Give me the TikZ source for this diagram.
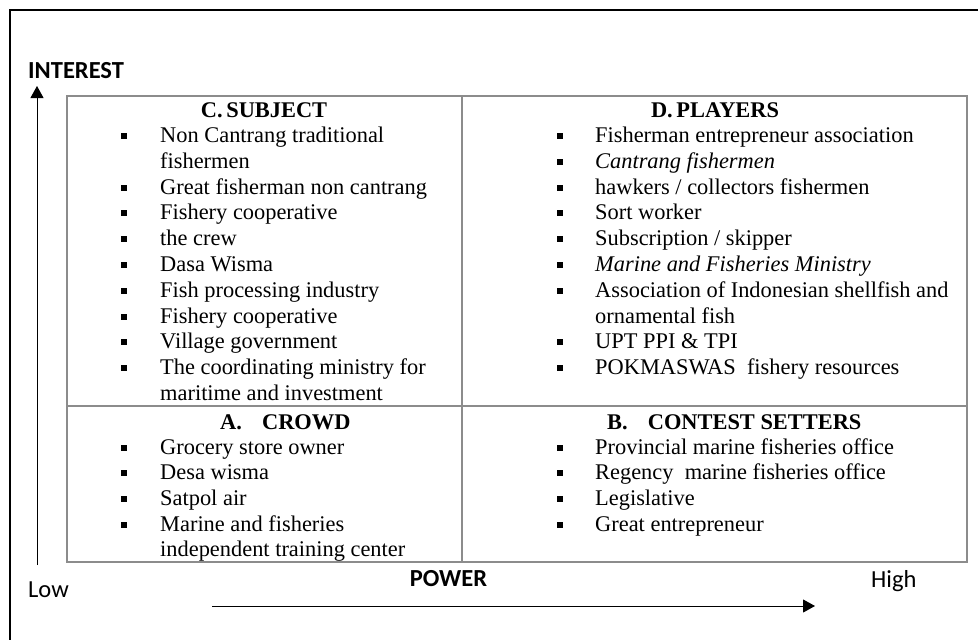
\documentclass[tikz,border=0pt]{standalone}
\usepackage{fontspec}
\setmainfont{Liberation Serif}
\newfontfamily\calibfont{Carlito}
\usetikzlibrary{arrows.meta}
\begin{document}
\begin{tikzpicture}[x=1pt,y=-1pt,
  itm/.style={anchor=base west,inner sep=0pt,yshift=-6.5pt,font=\fontsize{22.4}{26}\selectfont},
  hdr/.style={inner sep=0pt,font=\fontsize{22.4}{26}\selectfont\bfseries},
  bul/.style={fill=black,draw=none,minimum size=6pt,inner sep=0pt},
  axl/.style={inner sep=0pt,anchor=base west,font=\fontsize{24.5}{28}\selectfont\calibfont},
  axb/.style={inner sep=0pt,anchor=base,font=\fontsize{24.5}{28}\selectfont\calibfont\bfseries},
  grid/.style={draw=black!45,line width=1.6pt},
  arr/.style={line width=1pt,-{Triangle[width=13pt,length=12pt]}}]
\useasboundingbox (0,0) rectangle (978,640);
% outer frame (top and left visible)
\draw[line width=2pt] (10,645) -- (10,10) -- (985,10);
% table
\draw[grid] (67,96) rectangle (967,562);
\draw[grid] (462,96) -- (462,562);
\draw[grid] (67,406) -- (967,406);
% axis labels
\node[axb,anchor=base west] (interest) at (28,78) {INTEREST};
\node[axl] (low) at (28,597) {Low};
\node[axb] (power) at (448.5,586) {POWER};
\node[axl] (high) at (871,587) {High};
\coordinate (vs) at (37,565);
\coordinate (ve) at (37,86);
\coordinate (hs) at (212,606);
\coordinate (he) at (815,606);
\draw[arr] (vs) -- (ve);
\draw[arr] (hs) -- (he);
% headers
\node[hdr,anchor=base] (hC) at (264,117) {C.\,SUBJECT};
\node[hdr,anchor=base] (hD) at (715,117) {D.\,PLAYERS};
\node[hdr,anchor=base west] (hA) at (220,429) {A.\hspace{0.9em}CROWD};
\node[hdr,anchor=base west] (hB) at (607,429) {B.\hspace{0.9em}CONTEST SETTERS};
% C. SUBJECT
\node[bul] (cb1) at (124,136) {};
\node[itm] (c1) at (160,136) {Non Cantrang traditional};
\node[itm] (c1b) at (160,161.8) {fishermen};
\node[bul] (cb2) at (124,187.6) {};
\node[itm] (c2) at (160,187.6) {Great fisherman non cantrang};
\node[bul] (cb3) at (124,213.4) {};
\node[itm] (c3) at (160,213.4) {Fishery cooperative};
\node[bul] (cb4) at (124,239.2) {};
\node[itm] (c4) at (160,239.2) {the crew};
\node[bul] (cb5) at (124,265) {};
\node[itm] (c5) at (160,265) {Dasa Wisma};
\node[bul] (cb6) at (124,290.8) {};
\node[itm] (c6) at (160,290.8) {Fish processing industry};
\node[bul] (cb7) at (124,316.6) {};
\node[itm] (c7) at (160,316.6) {Fishery cooperative};
\node[bul] (cb8) at (124,342.4) {};
\node[itm] (c8) at (160,342.4) {Village government};
\node[bul] (cb9) at (124,368.2) {};
\node[itm] (c9) at (160,368.2) {The coordinating ministry for};
\node[itm] (c9b) at (160,394) {maritime and investment};
% D. PLAYERS
\node[bul] (db1) at (560,136) {};
\node[itm] (d1) at (595,136) {Fisherman entrepreneur association};
\node[bul] (db2) at (560,161.8) {};
\node[itm] (d2) at (595,161.8) {\itshape Cantrang fishermen};
\node[bul] (db3) at (560,187.6) {};
\node[itm] (d3) at (595,187.6) {hawkers / collectors fishermen};
\node[bul] (db4) at (560,213.4) {};
\node[itm] (d4) at (595,213.4) {Sort worker};
\node[bul] (db5) at (560,239.2) {};
\node[itm] (d5) at (595,239.2) {Subscription / skipper};
\node[bul] (db6) at (560,265) {};
\node[itm] (d6) at (595,265) {\itshape Marine and Fisheries Ministry};
\node[bul] (db7) at (560,290.8) {};
\node[itm] (d7) at (595,290.8) {Association of Indonesian shellfish and};
\node[itm] (d7b) at (595,316.6) {ornamental fish};
\node[bul] (db8) at (560,342.4) {};
\node[itm] (d8) at (595,342.4) {UPT PPI \& TPI};
\node[bul] (db9) at (560,368.2) {};
\node[itm] (d9) at (595,368.2) {POKMASWAS\ \ fishery resources};
% A. CROWD
\node[bul] (ab1) at (124,447.5) {};
\node[itm] (a1) at (160,447.5) {Grocery store owner};
\node[bul] (ab2) at (124,473.2) {};
\node[itm] (a2) at (160,473.2) {Desa wisma};
\node[bul] (ab3) at (124,498.9) {};
\node[itm] (a3) at (160,498.9) {Satpol air};
\node[bul] (ab4) at (124,524.6) {};
\node[itm] (a4) at (160,524.6) {Marine and fisheries};
\node[itm] (a4b) at (160,550.3) {independent training center};
% B. CONTEST SETTERS
\node[bul] (bb1) at (560,447.5) {};
\node[itm] (b1) at (595,447.5) {Provincial marine fisheries office};
\node[bul] (bb2) at (560,473.2) {};
\node[itm] (b2) at (595,473.2) {Regency\ \ marine fisheries office};
\node[bul] (bb3) at (560,498.9) {};
\node[itm] (b3) at (595,498.9) {Legislative};
\node[bul] (bb4) at (560,524.6) {};
\node[itm] (b4) at (595,524.6) {Great entrepreneur};
\end{tikzpicture}
\end{document}
